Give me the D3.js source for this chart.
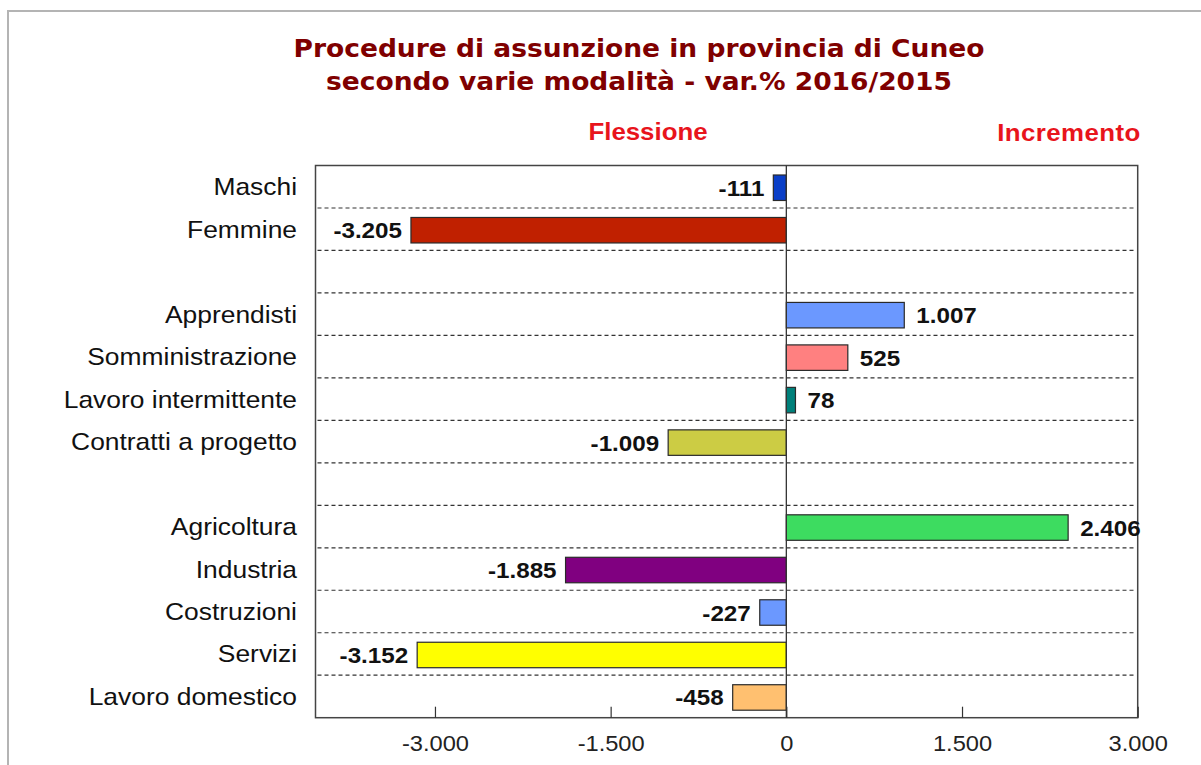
<!DOCTYPE html>
<html><head><meta charset="utf-8">
<script src="https://cdn.jsdelivr.net/npm/d3@7/dist/d3.min.js"></script>
<style>html,body{margin:0;padding:0;background:#fff;}svg{display:block;}</style>
</head><body>
<svg id="chart" width="1201" height="765"></svg>
<script>
const categories = ["Maschi","Femmine","","Apprendisti","Somministrazione","Lavoro intermittente","Contratti a progetto","","Agricoltura","Industria","Costruzioni","Servizi","Lavoro domestico"];
const values = [-111,-3205,null,1007,525,78,-1009,null,2406,-1885,-227,-3152,-458];
const barColors = ["#0a3fc8","#c02000",null,"#6b98ff","#ff8080","#00807a","#cccc44",null,"#3ddc60","#800080","#6b98ff","#ffff00","#ffc070"];
const tickValues = [-3000,-1500,0,1500,3000];
const titleLines = ["Procedure di assunzione in provincia di Cuneo","secondo varie modalità - var.% 2016/2015"];

const loc = d3.formatLocale({decimal:",",thousands:".",grouping:[3],currency:["","€"],minus:"-"});
const fmt = loc.format(",d");
const SX = 1.1; // horizontal stretch of the original image
const ARIAL = "Liberation Sans, Arial, sans-serif";

const svg = d3.select("#chart");
const L=315.5, R=1137.7, T=165.5, B=717.7;
const x = d3.scaleLinear().domain([-4020,3000]).range([L,R]);
const y = d3.scaleBand().domain(categories.map((d,i)=>i)).range([T,B]).paddingInner(0.4).paddingOuter(0.2);
const step = y.step();

// outer border
svg.append("rect").attr("x",8).attr("y",11).attr("width",1220).attr("height",800)
  .attr("fill","none").attr("stroke","#b4b4b4").attr("stroke-width",2);

// titles
svg.selectAll("text.title").data(titleLines).join("text").attr("class","title")
  .attr("transform",(d,i)=>`translate(639,${57+i*33}) scale(1.04,1)`).attr("text-anchor","middle")
  .attr("font-family","DejaVu Sans, Verdana, sans-serif").attr("font-weight","bold")
  .attr("font-size",25.5).attr("fill","#7f0000").text(d=>d);

svg.append("text").attr("transform",`translate(648,140) scale(${SX},1)`).attr("text-anchor","middle")
  .attr("font-family",ARIAL).attr("font-weight","bold")
  .attr("font-size",23.5).attr("fill","#e8141c").text("Flessione");
svg.append("text").attr("transform",`translate(1069,141) scale(${SX},1)`).attr("text-anchor","middle")
  .attr("font-family",ARIAL).attr("font-weight","bold").attr("letter-spacing",0.4)
  .attr("font-size",23.5).attr("fill","#e8141c").text("Incremento");

// dashed separators
const seps = d3.range(1,categories.length).map(i=>T+i*step);
svg.selectAll("line.sep").data(seps).join("line").attr("class","sep")
  .attr("x1",L+2).attr("x2",R-2).attr("y1",d=>d).attr("y2",d=>d)
  .attr("stroke","#333").attr("stroke-width",1.2).attr("stroke-dasharray","4,3");

// bars
const data = categories.map((c,i)=>({c,i,v:values[i],col:barColors[i]})).filter(d=>d.v!==null);
svg.selectAll("rect.bar").data(data).join("rect").attr("class","bar")
  .attr("x",d=>x(Math.min(0,d.v))).attr("width",d=>Math.abs(x(d.v)-x(0)))
  .attr("y",d=>y(d.i)+1).attr("height",y.bandwidth())
  .attr("fill",d=>d.col).attr("stroke","#2a2a2a").attr("stroke-width",1.2);

// frame
svg.append("rect").attr("x",L).attr("y",T).attr("width",R-L).attr("height",B-T)
  .attr("fill","none").attr("stroke","#444").attr("stroke-width",1.5);
// zero line
svg.append("line").attr("x1",x(0)).attr("x2",x(0)).attr("y1",T).attr("y2",B)
  .attr("stroke","#333").attr("stroke-width",1.3);

// bottom axis
const axis = d3.axisBottom(x).tickValues(tickValues).tickFormat(fmt).tickSize(-11).tickPadding(18);
const ag = svg.append("g").attr("transform",`translate(0,${B})`).call(axis);
ag.select(".domain").remove();
ag.selectAll(".tick line").attr("stroke","#333").attr("stroke-width",1.2);
ag.selectAll(".tick text").attr("font-family",ARIAL).attr("transform",`scale(${SX},1)`)
  .attr("font-size",21.5).attr("fill","#222");

// value labels
svg.selectAll("text.val").data(data).join("text").attr("class","val")
  .attr("transform",d=>`translate(${d.v<0 ? x(d.v)-9 : x(d.v)+12},${y(d.i)+y.bandwidth()/2+9}) scale(${SX},1)`)
  .attr("text-anchor",d=>d.v<0?"end":"start")
  .attr("font-family",ARIAL).attr("font-weight","bold")
  .attr("font-size",22).attr("fill","#111").text(d=>fmt(d.v));

// category labels
svg.selectAll("text.cat").data(categories.map((c,i)=>({c,i})).filter(d=>d.c)).join("text").attr("class","cat")
  .attr("transform",d=>`translate(297,${T+(d.i+0.5)*step+8.5}) scale(${SX},1)`)
  .attr("text-anchor","end")
  .attr("font-family",ARIAL)
  .attr("font-size",24).attr("fill","#111").text(d=>d.c);
</script>
</body></html>
